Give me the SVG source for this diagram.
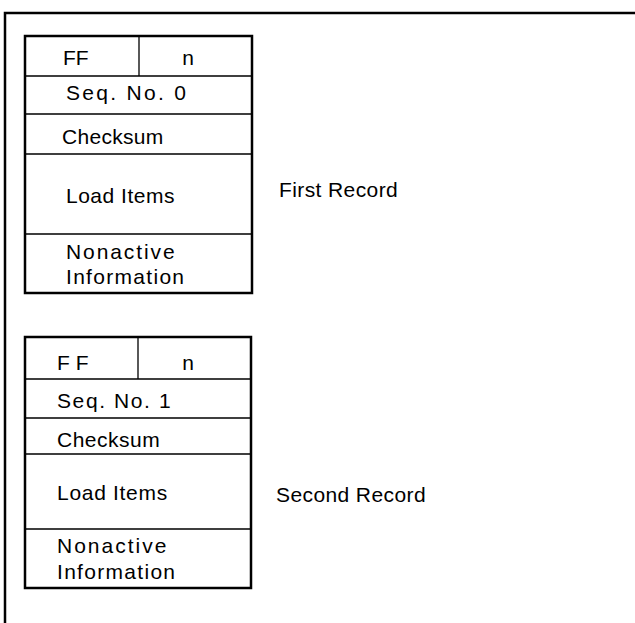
<svg xmlns="http://www.w3.org/2000/svg" width="635" height="623" viewBox="0 0 635 623">
<style>
.frame{fill:none;stroke:#000;stroke-width:2.5}
.box{fill:#fff;stroke:#000;stroke-width:2.5}
.div{stroke:#000;stroke-width:1.3;fill:none}
text{font-family:"Liberation Sans",Arial,sans-serif;fill:#000;font-size:21px}
.lbl{letter-spacing:0.4px}
</style>
<rect width="635" height="623" fill="#fff"/>
<path class="frame" d="M5,623 V13 H635"/>
<g id="record1">
<rect class="box" x="25" y="36" width="227" height="257"/>
<path class="div" d="M139,36 V76 M25,76 H252 M25,114 H252 M25,154 H252 M25,234 H252"/>
<text x="63" y="65">FF</text>
<text x="188" y="65" text-anchor="middle">n</text>
<text x="66" y="100" letter-spacing="2.3">Seq. No. 0</text>
<text x="62" y="144" letter-spacing="0.3">Checksum</text>
<text x="66" y="203" letter-spacing="0.5">Load Items</text>
<text x="66" y="259" letter-spacing="1.9">Nonactive</text>
<text x="66" y="284" letter-spacing="1.3">Information</text>
</g>
<g id="label1"><text class="lbl" x="279" y="197">First Record</text></g>
<g id="record2">
<rect class="box" x="25" y="337" width="226" height="251"/>
<path class="div" d="M138,337 V379 M25,379 H251 M25,418 H251 M25,454 H251 M25,529 H251"/>
<text x="57" y="370">F F</text>
<text x="188" y="370" text-anchor="middle">n</text>
<text x="57" y="408" letter-spacing="1.6">Seq. No. 1</text>
<text x="57" y="447" letter-spacing="0.5">Checksum</text>
<text x="57" y="500" letter-spacing="0.7">Load Items</text>
<text x="57" y="553" letter-spacing="2">Nonactive</text>
<text x="57" y="579" letter-spacing="1.3">Information</text>
</g>
<g id="label2"><text class="lbl" x="276" y="502">Second Record</text></g>
<g id="connectors"></g>
</svg>
